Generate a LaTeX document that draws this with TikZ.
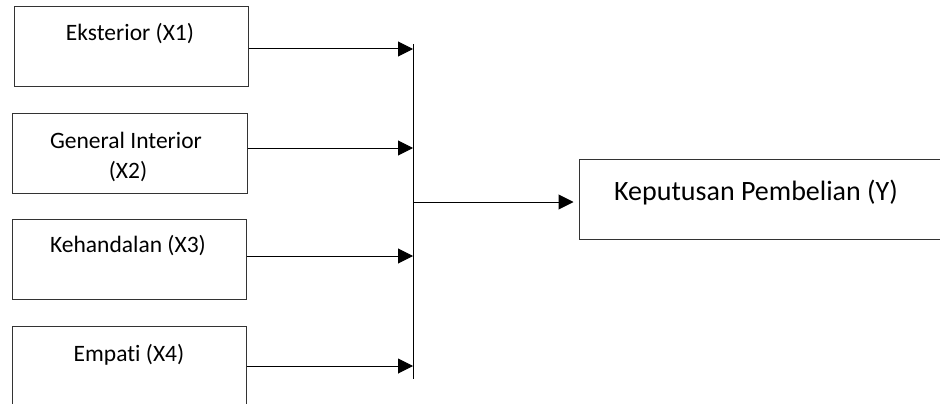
\documentclass[tikz,border=0pt]{standalone}
\usepackage{fontspec}
\setmainfont{Carlito}[Ligatures=NoCommon]
\usetikzlibrary{arrows.meta}
\begin{document}
\begin{tikzpicture}[x=1pt,y=-1pt,
  box/.style={draw=black!80,line width=1pt,rectangle,inner sep=0pt},
  lbl/.style={anchor=base,inner sep=0pt,font=\fontsize{23.5}{30}\selectfont},
  bigl/.style={anchor=base,inner sep=0pt,font=\fontsize{28}{34}\selectfont},
  arr/.style={line width=1pt,-{Triangle[length=15pt,width=15pt]}},
  bus/.style={line width=1pt}]
\useasboundingbox (0,0) rectangle (940,404);
% boxes
\node[box,minimum width=234pt,minimum height=80pt] (b1) at (131,47) {};
\node[box,minimum width=235pt,minimum height=80pt] (b2) at (129.5,153) {};
\node[box,minimum width=234pt,minimum height=80pt] (b3) at (129,259) {};
\node[box,minimum width=234pt,minimum height=80pt] (b4) at (129,366) {};
\node[box,minimum width=366pt,minimum height=80pt] (r) at (762,199) {};
% labels
\node[lbl] (t1) at (130,41) {Eksterior (X1)};
\node[lbl] (t2a) at (126,148) {General Interior};
\node[lbl] (t2b) at (128,178) {(X2)};
\node[lbl] (t3) at (128,252) {Kehandalan (X3)};
\node[lbl] (t4) at (129,361) {Empat\kern0pt i (X4)};
\node[bigl] (tr) at (756,200) {Keputusan Pembelian (Y)};
% bus
\coordinate (bt) at (413,44);
\coordinate (bb) at (413,379);
\coordinate (a1) at (413,49);
\coordinate (a2) at (413,148);
\coordinate (a3) at (413,256);
\coordinate (a4) at (413,366);
\coordinate (j) at (413,202);
\draw[bus] (bt) -- (bb);
\draw[arr] (b1.east |- a1) -- (a1);
\draw[arr] (b2.east |- a2) -- (a2);
\draw[arr] (b3.east |- a3) -- (a3);
\draw[arr] (b4.east |- a4) -- (a4);
\draw[arr,shorten >=5pt] (j) -- (r.west |- j);
\end{tikzpicture}
\end{document}
